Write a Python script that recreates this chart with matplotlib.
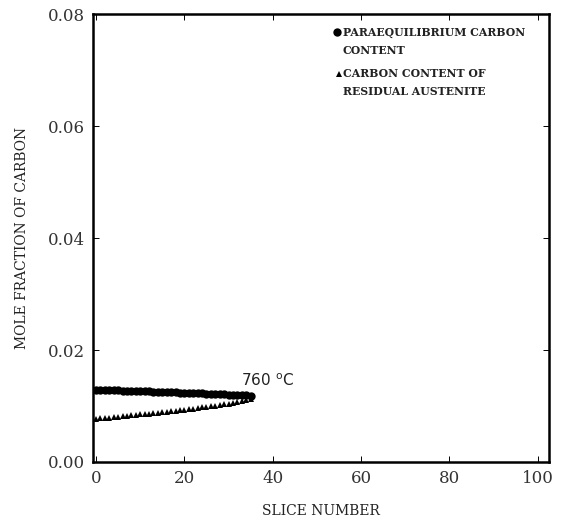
import numpy as np
import matplotlib.pyplot as plt

plt.rcParams['font.family'] = ['DejaVu Serif']

# Slice index across the austenite region
slice_num = np.arange(0, 36)

# Paraequilibrium carbon content at the interface, per slice
para_carbon = [0.01290, 0.01288, 0.01285, 0.01283, 0.01280, 0.01278, 0.01275, 0.01273,
               0.01270, 0.01268, 0.01265, 0.01262, 0.01260, 0.01257, 0.01254, 0.01251,
               0.01249, 0.01246, 0.01243, 0.01240, 0.01237, 0.01234, 0.01231, 0.01228,
               0.01225, 0.01222, 0.01219, 0.01215, 0.01212, 0.01208, 0.01205, 0.01201,
               0.01197, 0.01193, 0.01188, 0.01180]

# Carbon content of the residual austenite, per slice
resid_carbon = [0.00770, 0.00778, 0.00786, 0.00794, 0.00802, 0.00810, 0.00818, 0.00826,
                0.00834, 0.00842, 0.00850, 0.00858, 0.00866, 0.00874, 0.00882, 0.00891,
                0.00899, 0.00908, 0.00917, 0.00926, 0.00935, 0.00944, 0.00954, 0.00964,
                0.00974, 0.00985, 0.00996, 0.01007, 0.01019, 0.01031, 0.01044, 0.01057,
                0.01071, 0.01086, 0.01102, 0.01118]

xticks = [0, 20, 40, 60, 80, 100]
yticks = [0.00, 0.02, 0.04, 0.06, 0.08]

fig = plt.figure(figsize=(5.7, 5.25), dpi=100)
ax = fig.add_axes([0.163, 0.12, 0.8, 0.853])

ax.plot(slice_num, para_carbon, 'o', color='black', ms=6, markeredgewidth=0)
ax.plot(slice_num, resid_carbon, '^', color='black', ms=4.2, markeredgewidth=0)

# Temperature tag at the end of the curves
ax.text(32.8, 0.0130, '760 $^{\\mathrm{o}}$C', fontsize=11, family='DejaVu Sans',
        color='#222222', ha='left', va='bottom')

# Legend drawn by hand in the upper right
ax.plot([54.5], [0.0768], 'o', color='black', ms=6, markeredgewidth=0)
ax.text(55.8, 0.0768, 'PARAEQUILIBRIUM CARBON', fontsize=7.8, fontweight='bold',
        color='#222222', va='center')
ax.text(55.8, 0.0736, 'CONTENT', fontsize=7.8, fontweight='bold', color='#222222',
        va='center')
ax.plot([55.0], [0.0694], '^', color='black', ms=4.5, markeredgewidth=0)
ax.text(56.0, 0.0694, 'CARBON CONTENT OF', fontsize=7.8, fontweight='bold',
        color='#222222', va='center')
ax.text(56.0, 0.0662, 'RESIDUAL AUSTENITE', fontsize=7.8, fontweight='bold',
        color='#222222', va='center')

ax.set_xlim(-0.7, 102.5)
ax.set_ylim(0, 0.08)
ax.set_xticks(xticks)
ax.set_yticks(yticks)
ax.set_yticklabels([f'{v:.2f}' for v in yticks])
ax.tick_params(direction='in', length=4, width=0.7, labelsize=12, labelcolor='#333333',
               top=True, right=True, pad=6)
for s in ax.spines.values():
    s.set_linewidth(1.8)

ax.set_xlabel('SLICE NUMBER', fontsize=10, color='#222222', labelpad=12)
ax.set_ylabel('MOLE FRACTION OF CARBON', fontsize=10, color='#222222', labelpad=13)

plt.savefig('out.png', dpi=100)
